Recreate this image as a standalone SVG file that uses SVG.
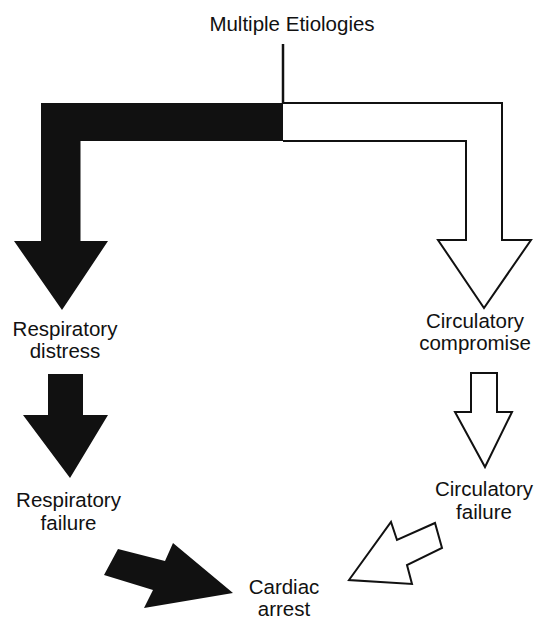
<svg xmlns="http://www.w3.org/2000/svg" width="537" height="620" viewBox="0 0 537 620">
  <style>
    .lbl { font-family: "Liberation Sans", Arial, sans-serif; font-size: 20.5px; fill: #111; text-anchor: middle; }
    .solid { fill: #111; stroke: none; }
    .hollow { fill: #fff; stroke: #111; stroke-width: 2; stroke-linejoin: miter; }
  </style>
  <rect width="537" height="620" fill="#fff"/>

  <g id="connectors">
    <!-- stem from the top label -->
    <line x1="283" y1="44" x2="283" y2="104" stroke="#111" stroke-width="2.5"/>
    <!-- split arrow: respiratory branch (solid) -->
    <polygon class="solid" points="41,103 283,103 283,141 80.5,141 80.5,241 108,241 62,310 14,241 41,241"/>
    <!-- split arrow: circulatory branch (hollow) -->
    <polyline class="hollow" points="283,103 502,103 502,240 531,240 484,308 438,240 466,240 466,141 283,141" fill="#fff"/>
    <!-- respiratory distress to respiratory failure -->
    <polygon class="solid" points="48,374 83,374 83,415 108,415 70,478 23,415 48,415"/>
    <!-- circulatory compromise to circulatory failure -->
    <polygon class="hollow" points="471,373 497,373 497,412 512,412 485,467 455,412 471,412"/>
    <!-- respiratory failure to cardiac arrest -->
    <polygon class="solid" points="118,549 165,561 173,543 233,593 144,608 153,590 104,575"/>
    <!-- circulatory failure to cardiac arrest -->
    <polygon class="hollow" points="349,580 391,522 397,540 435,523 442,548 407,565 412,584"/>
  </g>

  <g id="etiologies">
    <text class="lbl" x="292" y="31">Multiple Etiologies</text>
  </g>
  <g id="resp-distress">
    <text class="lbl" x="65" y="336">Respiratory</text>
    <text class="lbl" x="65" y="358">distress</text>
  </g>
  <g id="resp-failure">
    <text class="lbl" x="68.5" y="507">Respiratory</text>
    <text class="lbl" x="68.5" y="530">failure</text>
  </g>
  <g id="circ-compromise">
    <text class="lbl" x="475" y="328">Circulatory</text>
    <text class="lbl" x="475" y="350">compromise</text>
  </g>
  <g id="circ-failure">
    <text class="lbl" x="484" y="496">Circulatory</text>
    <text class="lbl" x="484" y="519">failure</text>
  </g>
  <g id="cardiac-arrest">
    <text class="lbl" x="284" y="594">Cardiac</text>
    <text class="lbl" x="284" y="616">arrest</text>
  </g>
</svg>
